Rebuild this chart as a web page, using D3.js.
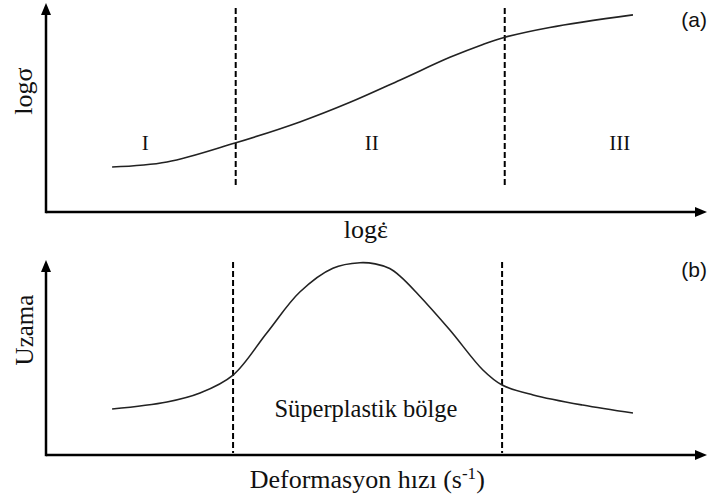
<!DOCTYPE html>
<html>
<head>
<meta charset="utf-8">
<script src="https://cdn.jsdelivr.net/npm/d3@7"></script>
<style>
  html, body { margin: 0; padding: 0; background: #fff; }
  svg { display: block; }
</style>
</head>
<body>
<svg id="chart" width="709" height="499"></svg>
<script>
// Panel (a): log flow stress vs log strain rate
const rateA   = [10, 18.3, 28.6, 38.4, 46, 53.6, 61.1, 66.1, 69.3, 76.2, 88.8];
const stressA = [21.5, 23.9, 33, 43.1, 52.5, 63.2, 74.0, 80.2, 83.5, 88.3, 94.3];
const boundsA = [28.7, 69.4];
const regionLabels = ["I", "II", "III"];
const regionX = [15, 49.3, 86.8];

// Panel (b): elongation vs deformation rate
const rateB  = [10, 18.3, 23.3, 28.3, 33.4, 38.4, 43.4, 47.5, 49.8, 52.0, 53.6, 56.1, 61.1, 66.1, 69, 73.7, 81.2, 88.8];
const elongB = [23.6, 27.2, 31.8, 41, 62.6, 83.6, 95.8, 98.6, 98.0, 95.6, 91.6, 83.1, 64.1, 43.6, 35.9, 30.8, 25.6, 21.5];
const boundsB = [28.3, 69.0];

const svg = d3.select("#chart");
const x = d3.scaleLinear().domain([0, 100]).range([46, 707]);
const yA = d3.scaleLinear().domain([0, 100]).range([212, 3]);
const yB = d3.scaleLinear().domain([0, 100]).range([455, 260]);

const serif = "'Liberation Serif', 'Times New Roman', serif";
const sans = "'Liberation Sans', Arial, sans-serif";
const ink = "#111";

function axes(y) {
  const g = svg.append("g");
  const x0 = x(0), x1 = x(100), y0 = y(0), y1 = y(100);
  g.append("line").attr("x1", x0).attr("x2", x1 - 8).attr("y1", y0).attr("y2", y0)
    .attr("stroke", "#000").attr("stroke-width", 2.5);
  g.append("line").attr("x1", x0).attr("x2", x0).attr("y1", y0 + 1.2).attr("y2", y1 + 8)
    .attr("stroke", "#000").attr("stroke-width", 2.5);
  // arrow heads
  g.append("path").attr("d", `M${x1},${y0} L${x1 - 12},${y0 - 5} L${x1 - 12},${y0 + 5} Z`).attr("fill", "#000");
  g.append("path").attr("d", `M${x0},${y1} L${x0 - 5},${y1 + 12} L${x0 + 5},${y1 + 12} Z`).attr("fill", "#000");
}

function bounds(vals, y, top, bottom) {
  svg.append("g").selectAll("line").data(vals).join("line")
    .attr("x1", d => x(d)).attr("x2", d => x(d))
    .attr("y1", y(top)).attr("y2", y(bottom))
    .attr("stroke", "#000").attr("stroke-width", 2)
    .attr("stroke-dasharray", "6,3");
}

function curve(xs, ys, y) {
  const pts = xs.map((d, i) => [d, ys[i]]);
  const line = d3.line().x(d => x(d[0])).y(d => y(d[1])).curve(d3.curveCatmullRom.alpha(0.5));
  svg.append("path").datum(pts).attr("d", line)
    .attr("fill", "none").attr("stroke", "#222").attr("stroke-width", 1.6);
}

// ---- panel (a)
axes(yA);
bounds(boundsA, yA, 97.6, 12);
curve(rateA, stressA, yA);

svg.append("g").selectAll("text").data(regionLabels).join("text")
  .attr("x", (d, i) => x(regionX[i])).attr("y", 150)
  .attr("text-anchor", "middle").attr("font-family", serif).attr("font-size", 21)
  .attr("fill", ink).text(d => d);

svg.append("text").attr("transform", "translate(32,91) rotate(-90)")
  .attr("text-anchor", "middle").attr("font-family", serif).attr("font-size", 26)
  .attr("fill", ink).text("logσ");

// strain-rate label: "logε" with an overdot set back over the epsilon
const rateLabel = svg.append("text").attr("x", x(48.4)).attr("y", 238)
  .attr("text-anchor", "middle").attr("font-family", serif).attr("font-size", 26)
  .attr("fill", ink);
rateLabel.append("tspan").text("logε");
const dot = rateLabel.append("tspan").attr("dy", 1).text("\u02D9");
{
  const n = rateLabel.node();
  const wEps = n.getSubStringLength(3, 1);
  const wDot = n.getSubStringLength(4, 1);
  dot.attr("dx", -(wEps + wDot) / 2 + 1);
}

svg.append("text").attr("x", 707).attr("y", 27)
  .attr("text-anchor", "end").attr("font-family", sans).attr("font-size", 21)
  .attr("fill", ink).text("(a)");

// ---- panel (b)
axes(yB);
bounds(boundsB, yB, 99, 1);
curve(rateB, elongB, yB);

svg.append("text").attr("x", x(48.4)).attr("y", 417)
  .attr("text-anchor", "middle").attr("font-family", serif).attr("font-size", 24.5)
  .attr("fill", ink).text("Süperplastik bölge");

svg.append("text").attr("transform", "translate(33,330) rotate(-90)")
  .attr("text-anchor", "middle").attr("font-family", serif).attr("font-size", 25)
  .attr("fill", ink).text("Uzama");

svg.append("text").attr("x", x(48.6)).attr("y", 488)
  .attr("text-anchor", "middle").attr("font-family", serif).attr("font-size", 26)
  .attr("fill", ink)
  .call(t => {
    t.append("tspan").text("Deformasyon hızı (s");
    t.append("tspan").attr("dy", -9).attr("font-size", 17).text("-1");
    t.append("tspan").attr("dy", 9).text(")");
  });

svg.append("text").attr("x", 707).attr("y", 277)
  .attr("text-anchor", "end").attr("font-family", sans).attr("font-size", 21)
  .attr("fill", ink).text("(b)");
</script>
</body>
</html>
